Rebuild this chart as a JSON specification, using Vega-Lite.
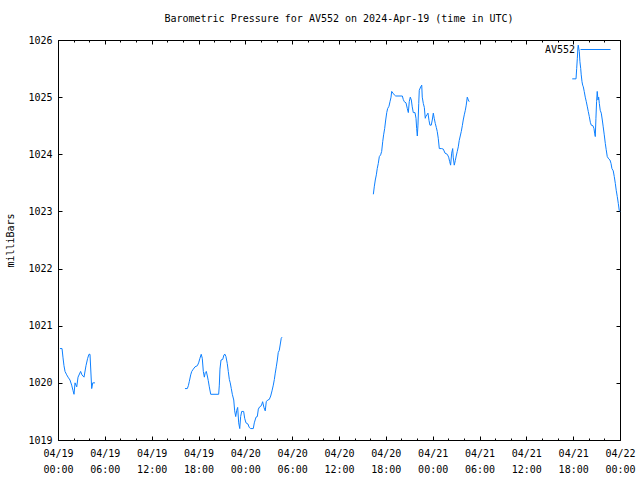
{
  "$schema": "https://vega.github.io/schema/vega-lite/v6.json",
  "width": 562,
  "height": 400,
  "autosize": {"type": "none"},
  "padding": {"left": 58, "top": 40, "right": 20, "bottom": 40},
  "background": "white",
  "title": {"text": "Barometric Pressure for AV552 on 2024-Apr-19 (time in UTC)", "font": "DejaVu Sans Mono", "fontSize": 10, "fontWeight": "normal", "color": "black", "anchor": "middle", "baseline": "bottom", "offset": 0},
  "config": {
    "view": {"stroke": "black", "strokeWidth": 1},
    "axis": {"domain": false, "grid": false, "tickColor": "black", "tickWidth": 1, "labelFont": "DejaVu Sans Mono", "labelFontSize": 10, "labelColor": "black", "titleFont": "DejaVu Sans Mono", "titleFontSize": 10, "titleFontWeight": "normal", "titleColor": "black"}
  },
  "data": {"values": [
    {"t": "2024-04-19T00:15:00Z", "p": 1020.6, "s": 1},
    {"t": "2024-04-19T00:31:00Z", "p": 1020.6, "s": 1},
    {"t": "2024-04-19T00:38:00Z", "p": 1020.45, "s": 1},
    {"t": "2024-04-19T00:46:00Z", "p": 1020.3, "s": 1},
    {"t": "2024-04-19T00:54:00Z", "p": 1020.2, "s": 1},
    {"t": "2024-04-19T01:07:00Z", "p": 1020.14, "s": 1},
    {"t": "2024-04-19T01:17:00Z", "p": 1020.1, "s": 1},
    {"t": "2024-04-19T01:32:00Z", "p": 1020.05, "s": 1},
    {"t": "2024-04-19T01:45:00Z", "p": 1019.96, "s": 1},
    {"t": "2024-04-19T01:55:00Z", "p": 1019.87, "s": 1},
    {"t": "2024-04-19T02:03:00Z", "p": 1019.8, "s": 1},
    {"t": "2024-04-19T02:11:00Z", "p": 1020.0, "s": 1},
    {"t": "2024-04-19T02:24:00Z", "p": 1019.93, "s": 1},
    {"t": "2024-04-19T02:34:00Z", "p": 1020.1, "s": 1},
    {"t": "2024-04-19T02:54:00Z", "p": 1020.2, "s": 1},
    {"t": "2024-04-19T03:04:00Z", "p": 1020.14, "s": 1},
    {"t": "2024-04-19T03:20:00Z", "p": 1020.1, "s": 1},
    {"t": "2024-04-19T03:35:00Z", "p": 1020.3, "s": 1},
    {"t": "2024-04-19T03:48:00Z", "p": 1020.43, "s": 1},
    {"t": "2024-04-19T03:58:00Z", "p": 1020.5, "s": 1},
    {"t": "2024-04-19T04:06:00Z", "p": 1020.5, "s": 1},
    {"t": "2024-04-19T04:19:00Z", "p": 1019.9, "s": 1},
    {"t": "2024-04-19T04:27:00Z", "p": 1020.0, "s": 1},
    {"t": "2024-04-19T04:44:00Z", "p": 1020.0, "s": 1},

    {"t": "2024-04-19T16:16:00Z", "p": 1019.9, "s": 2},
    {"t": "2024-04-19T16:34:00Z", "p": 1019.9, "s": 2},
    {"t": "2024-04-19T16:42:00Z", "p": 1019.95, "s": 2},
    {"t": "2024-04-19T16:49:00Z", "p": 1020.02, "s": 2},
    {"t": "2024-04-19T17:00:00Z", "p": 1020.14, "s": 2},
    {"t": "2024-04-19T17:08:00Z", "p": 1020.2, "s": 2},
    {"t": "2024-04-19T17:20:00Z", "p": 1020.24, "s": 2},
    {"t": "2024-04-19T17:33:00Z", "p": 1020.28, "s": 2},
    {"t": "2024-04-19T17:51:00Z", "p": 1020.3, "s": 2},
    {"t": "2024-04-19T18:01:00Z", "p": 1020.35, "s": 2},
    {"t": "2024-04-19T18:11:00Z", "p": 1020.43, "s": 2},
    {"t": "2024-04-19T18:21:00Z", "p": 1020.5, "s": 2},
    {"t": "2024-04-19T18:29:00Z", "p": 1020.43, "s": 2},
    {"t": "2024-04-19T18:37:00Z", "p": 1020.2, "s": 2},
    {"t": "2024-04-19T18:45:00Z", "p": 1020.1, "s": 2},
    {"t": "2024-04-19T18:52:00Z", "p": 1020.18, "s": 2},
    {"t": "2024-04-19T19:00:00Z", "p": 1020.2, "s": 2},
    {"t": "2024-04-19T19:08:00Z", "p": 1020.12, "s": 2},
    {"t": "2024-04-19T19:15:00Z", "p": 1020.04, "s": 2},
    {"t": "2024-04-19T19:23:00Z", "p": 1019.93, "s": 2},
    {"t": "2024-04-19T19:34:00Z", "p": 1019.8, "s": 2},
    {"t": "2024-04-19T20:35:00Z", "p": 1019.8, "s": 2},
    {"t": "2024-04-19T20:40:00Z", "p": 1019.96, "s": 2},
    {"t": "2024-04-19T20:45:00Z", "p": 1020.24, "s": 2},
    {"t": "2024-04-19T20:53:00Z", "p": 1020.4, "s": 2},
    {"t": "2024-04-19T21:06:00Z", "p": 1020.41, "s": 2},
    {"t": "2024-04-19T21:16:00Z", "p": 1020.49, "s": 2},
    {"t": "2024-04-19T21:24:00Z", "p": 1020.5, "s": 2},
    {"t": "2024-04-19T21:31:00Z", "p": 1020.46, "s": 2},
    {"t": "2024-04-19T21:41:00Z", "p": 1020.34, "s": 2},
    {"t": "2024-04-19T21:49:00Z", "p": 1020.2, "s": 2},
    {"t": "2024-04-19T21:57:00Z", "p": 1020.06, "s": 2},
    {"t": "2024-04-19T22:04:00Z", "p": 1020.0, "s": 2},
    {"t": "2024-04-19T22:12:00Z", "p": 1019.9, "s": 2},
    {"t": "2024-04-19T22:20:00Z", "p": 1019.8, "s": 2},
    {"t": "2024-04-19T22:31:00Z", "p": 1019.7, "s": 2},
    {"t": "2024-04-19T22:38:00Z", "p": 1019.51, "s": 2},
    {"t": "2024-04-19T22:46:00Z", "p": 1019.41, "s": 2},
    {"t": "2024-04-19T22:54:00Z", "p": 1019.52, "s": 2},
    {"t": "2024-04-19T23:01:00Z", "p": 1019.57, "s": 2},
    {"t": "2024-04-19T23:09:00Z", "p": 1019.3, "s": 2},
    {"t": "2024-04-19T23:17:00Z", "p": 1019.2, "s": 2},
    {"t": "2024-04-19T23:24:00Z", "p": 1019.41, "s": 2},
    {"t": "2024-04-19T23:32:00Z", "p": 1019.5, "s": 2},
    {"t": "2024-04-19T23:47:00Z", "p": 1019.5, "s": 2},
    {"t": "2024-04-19T23:55:00Z", "p": 1019.38, "s": 2},
    {"t": "2024-04-20T00:05:00Z", "p": 1019.3, "s": 2},
    {"t": "2024-04-20T00:20:00Z", "p": 1019.28, "s": 2},
    {"t": "2024-04-20T00:30:00Z", "p": 1019.22, "s": 2},
    {"t": "2024-04-20T00:41:00Z", "p": 1019.2, "s": 2},
    {"t": "2024-04-20T01:01:00Z", "p": 1019.2, "s": 2},
    {"t": "2024-04-20T01:09:00Z", "p": 1019.3, "s": 2},
    {"t": "2024-04-20T01:22:00Z", "p": 1019.4, "s": 2},
    {"t": "2024-04-20T01:32:00Z", "p": 1019.41, "s": 2},
    {"t": "2024-04-20T01:40:00Z", "p": 1019.54, "s": 2},
    {"t": "2024-04-20T01:50:00Z", "p": 1019.58, "s": 2},
    {"t": "2024-04-20T02:03:00Z", "p": 1019.6, "s": 2},
    {"t": "2024-04-20T02:13:00Z", "p": 1019.67, "s": 2},
    {"t": "2024-04-20T02:23:00Z", "p": 1019.57, "s": 2},
    {"t": "2024-04-20T02:33:00Z", "p": 1019.51, "s": 2},
    {"t": "2024-04-20T02:41:00Z", "p": 1019.67, "s": 2},
    {"t": "2024-04-20T02:52:00Z", "p": 1019.7, "s": 2},
    {"t": "2024-04-20T03:04:00Z", "p": 1019.71, "s": 2},
    {"t": "2024-04-20T03:15:00Z", "p": 1019.77, "s": 2},
    {"t": "2024-04-20T03:25:00Z", "p": 1019.86, "s": 2},
    {"t": "2024-04-20T03:35:00Z", "p": 1019.96, "s": 2},
    {"t": "2024-04-20T03:43:00Z", "p": 1020.06, "s": 2},
    {"t": "2024-04-20T03:50:00Z", "p": 1020.17, "s": 2},
    {"t": "2024-04-20T03:58:00Z", "p": 1020.28, "s": 2},
    {"t": "2024-04-20T04:06:00Z", "p": 1020.4, "s": 2},
    {"t": "2024-04-20T04:13:00Z", "p": 1020.53, "s": 2},
    {"t": "2024-04-20T04:21:00Z", "p": 1020.57, "s": 2},
    {"t": "2024-04-20T04:29:00Z", "p": 1020.68, "s": 2},
    {"t": "2024-04-20T04:36:00Z", "p": 1020.78, "s": 2},
    {"t": "2024-04-20T04:42:00Z", "p": 1020.8, "s": 2},

    {"t": "2024-04-20T16:24:00Z", "p": 1023.3, "s": 3},
    {"t": "2024-04-20T16:31:00Z", "p": 1023.43, "s": 3},
    {"t": "2024-04-20T16:39:00Z", "p": 1023.55, "s": 3},
    {"t": "2024-04-20T16:47:00Z", "p": 1023.64, "s": 3},
    {"t": "2024-04-20T16:54:00Z", "p": 1023.75, "s": 3},
    {"t": "2024-04-20T17:02:00Z", "p": 1023.84, "s": 3},
    {"t": "2024-04-20T17:10:00Z", "p": 1023.96, "s": 3},
    {"t": "2024-04-20T17:20:00Z", "p": 1023.99, "s": 3},
    {"t": "2024-04-20T17:28:00Z", "p": 1024.05, "s": 3},
    {"t": "2024-04-20T17:36:00Z", "p": 1024.22, "s": 3},
    {"t": "2024-04-20T17:43:00Z", "p": 1024.34, "s": 3},
    {"t": "2024-04-20T17:51:00Z", "p": 1024.45, "s": 3},
    {"t": "2024-04-20T17:59:00Z", "p": 1024.6, "s": 3},
    {"t": "2024-04-20T18:07:00Z", "p": 1024.73, "s": 3},
    {"t": "2024-04-20T18:14:00Z", "p": 1024.8, "s": 3},
    {"t": "2024-04-20T18:24:00Z", "p": 1024.84, "s": 3},
    {"t": "2024-04-20T18:32:00Z", "p": 1024.92, "s": 3},
    {"t": "2024-04-20T18:40:00Z", "p": 1025.0, "s": 3},
    {"t": "2024-04-20T18:45:00Z", "p": 1025.1, "s": 3},
    {"t": "2024-04-20T18:55:00Z", "p": 1025.07, "s": 3},
    {"t": "2024-04-20T19:05:00Z", "p": 1025.04, "s": 3},
    {"t": "2024-04-20T19:16:00Z", "p": 1025.02, "s": 3},
    {"t": "2024-04-20T20:07:00Z", "p": 1025.02, "s": 3},
    {"t": "2024-04-20T20:14:00Z", "p": 1024.96, "s": 3},
    {"t": "2024-04-20T20:22:00Z", "p": 1024.92, "s": 3},
    {"t": "2024-04-20T20:35:00Z", "p": 1024.9, "s": 3},
    {"t": "2024-04-20T20:45:00Z", "p": 1024.8, "s": 3},
    {"t": "2024-04-20T20:53:00Z", "p": 1024.73, "s": 3},
    {"t": "2024-04-20T21:00:00Z", "p": 1024.92, "s": 3},
    {"t": "2024-04-20T21:08:00Z", "p": 1025.0, "s": 3},
    {"t": "2024-04-20T21:16:00Z", "p": 1024.95, "s": 3},
    {"t": "2024-04-20T21:23:00Z", "p": 1024.83, "s": 3},
    {"t": "2024-04-20T21:31:00Z", "p": 1024.73, "s": 3},
    {"t": "2024-04-20T21:44:00Z", "p": 1024.73, "s": 3},
    {"t": "2024-04-20T21:52:00Z", "p": 1024.63, "s": 3},
    {"t": "2024-04-20T21:57:00Z", "p": 1024.45, "s": 3},
    {"t": "2024-04-20T22:02:00Z", "p": 1024.32, "s": 3},
    {"t": "2024-04-20T22:07:00Z", "p": 1024.51, "s": 3},
    {"t": "2024-04-20T22:13:00Z", "p": 1024.89, "s": 3},
    {"t": "2024-04-20T22:17:00Z", "p": 1025.12, "s": 3},
    {"t": "2024-04-20T22:28:00Z", "p": 1025.18, "s": 3},
    {"t": "2024-04-20T22:36:00Z", "p": 1025.21, "s": 3},
    {"t": "2024-04-20T22:40:00Z", "p": 1025.0, "s": 3},
    {"t": "2024-04-20T22:48:00Z", "p": 1024.89, "s": 3},
    {"t": "2024-04-20T22:56:00Z", "p": 1024.82, "s": 3},
    {"t": "2024-04-20T23:03:00Z", "p": 1024.63, "s": 3},
    {"t": "2024-04-20T23:09:00Z", "p": 1024.67, "s": 3},
    {"t": "2024-04-20T23:16:00Z", "p": 1024.69, "s": 3},
    {"t": "2024-04-20T23:24:00Z", "p": 1024.72, "s": 3},
    {"t": "2024-04-20T23:32:00Z", "p": 1024.59, "s": 3},
    {"t": "2024-04-20T23:39:00Z", "p": 1024.51, "s": 3},
    {"t": "2024-04-20T23:49:00Z", "p": 1024.51, "s": 3},
    {"t": "2024-04-20T23:57:00Z", "p": 1024.6, "s": 3},
    {"t": "2024-04-21T00:05:00Z", "p": 1024.72, "s": 3},
    {"t": "2024-04-21T00:12:00Z", "p": 1024.63, "s": 3},
    {"t": "2024-04-21T00:20:00Z", "p": 1024.54, "s": 3},
    {"t": "2024-04-21T00:28:00Z", "p": 1024.47, "s": 3},
    {"t": "2024-04-21T00:35:00Z", "p": 1024.4, "s": 3},
    {"t": "2024-04-21T00:43:00Z", "p": 1024.28, "s": 3},
    {"t": "2024-04-21T00:51:00Z", "p": 1024.1, "s": 3},
    {"t": "2024-04-21T01:09:00Z", "p": 1024.1, "s": 3},
    {"t": "2024-04-21T01:22:00Z", "p": 1024.09, "s": 3},
    {"t": "2024-04-21T01:35:00Z", "p": 1024.02, "s": 3},
    {"t": "2024-04-21T01:52:00Z", "p": 1024.0, "s": 3},
    {"t": "2024-04-21T02:03:00Z", "p": 1023.95, "s": 3},
    {"t": "2024-04-21T02:11:00Z", "p": 1023.87, "s": 3},
    {"t": "2024-04-21T02:18:00Z", "p": 1023.81, "s": 3},
    {"t": "2024-04-21T02:26:00Z", "p": 1024.02, "s": 3},
    {"t": "2024-04-21T02:34:00Z", "p": 1024.1, "s": 3},
    {"t": "2024-04-21T02:38:00Z", "p": 1023.95, "s": 3},
    {"t": "2024-04-21T02:46:00Z", "p": 1023.81, "s": 3},
    {"t": "2024-04-21T02:54:00Z", "p": 1023.89, "s": 3},
    {"t": "2024-04-21T03:01:00Z", "p": 1023.97, "s": 3},
    {"t": "2024-04-21T03:09:00Z", "p": 1024.05, "s": 3},
    {"t": "2024-04-21T03:17:00Z", "p": 1024.13, "s": 3},
    {"t": "2024-04-21T03:24:00Z", "p": 1024.24, "s": 3},
    {"t": "2024-04-21T03:32:00Z", "p": 1024.32, "s": 3},
    {"t": "2024-04-21T03:40:00Z", "p": 1024.4, "s": 3},
    {"t": "2024-04-21T03:48:00Z", "p": 1024.5, "s": 3},
    {"t": "2024-04-21T03:55:00Z", "p": 1024.6, "s": 3},
    {"t": "2024-04-21T04:03:00Z", "p": 1024.69, "s": 3},
    {"t": "2024-04-21T04:11:00Z", "p": 1024.77, "s": 3},
    {"t": "2024-04-21T04:18:00Z", "p": 1024.86, "s": 3},
    {"t": "2024-04-21T04:26:00Z", "p": 1025.0, "s": 3},
    {"t": "2024-04-21T04:34:00Z", "p": 1024.95, "s": 3},
    {"t": "2024-04-21T04:41:00Z", "p": 1024.92, "s": 3},

    {"t": "2024-04-21T17:53:00Z", "p": 1025.32, "s": 4},
    {"t": "2024-04-21T18:22:00Z", "p": 1025.32, "s": 4},
    {"t": "2024-04-21T18:27:00Z", "p": 1025.5, "s": 4},
    {"t": "2024-04-21T18:32:00Z", "p": 1025.68, "s": 4},
    {"t": "2024-04-21T18:37:00Z", "p": 1025.88, "s": 4},
    {"t": "2024-04-21T18:39:00Z", "p": 1025.91, "s": 4},
    {"t": "2024-04-21T18:47:00Z", "p": 1025.8, "s": 4},
    {"t": "2024-04-21T18:52:00Z", "p": 1025.62, "s": 4},
    {"t": "2024-04-21T18:58:00Z", "p": 1025.5, "s": 4},
    {"t": "2024-04-21T19:02:00Z", "p": 1025.39, "s": 4},
    {"t": "2024-04-21T19:08:00Z", "p": 1025.27, "s": 4},
    {"t": "2024-04-21T19:13:00Z", "p": 1025.21, "s": 4},
    {"t": "2024-04-21T19:18:00Z", "p": 1025.18, "s": 4},
    {"t": "2024-04-21T19:25:00Z", "p": 1025.1, "s": 4},
    {"t": "2024-04-21T19:33:00Z", "p": 1025.0, "s": 4},
    {"t": "2024-04-21T19:41:00Z", "p": 1024.92, "s": 4},
    {"t": "2024-04-21T19:49:00Z", "p": 1024.83, "s": 4},
    {"t": "2024-04-21T19:56:00Z", "p": 1024.75, "s": 4},
    {"t": "2024-04-21T20:04:00Z", "p": 1024.66, "s": 4},
    {"t": "2024-04-21T20:12:00Z", "p": 1024.56, "s": 4},
    {"t": "2024-04-21T20:19:00Z", "p": 1024.51, "s": 4},
    {"t": "2024-04-21T20:32:00Z", "p": 1024.5, "s": 4},
    {"t": "2024-04-21T20:40:00Z", "p": 1024.45, "s": 4},
    {"t": "2024-04-21T20:45:00Z", "p": 1024.37, "s": 4},
    {"t": "2024-04-21T20:50:00Z", "p": 1024.31, "s": 4},
    {"t": "2024-04-21T20:55:00Z", "p": 1024.63, "s": 4},
    {"t": "2024-04-21T21:00:00Z", "p": 1024.92, "s": 4},
    {"t": "2024-04-21T21:05:00Z", "p": 1025.1, "s": 4},
    {"t": "2024-04-21T21:11:00Z", "p": 1024.95, "s": 4},
    {"t": "2024-04-21T21:16:00Z", "p": 1025.0, "s": 4},
    {"t": "2024-04-21T21:21:00Z", "p": 1024.89, "s": 4},
    {"t": "2024-04-21T21:28:00Z", "p": 1024.77, "s": 4},
    {"t": "2024-04-21T21:36:00Z", "p": 1024.72, "s": 4},
    {"t": "2024-04-21T21:44:00Z", "p": 1024.6, "s": 4},
    {"t": "2024-04-21T21:51:00Z", "p": 1024.48, "s": 4},
    {"t": "2024-04-21T21:59:00Z", "p": 1024.34, "s": 4},
    {"t": "2024-04-21T22:07:00Z", "p": 1024.19, "s": 4},
    {"t": "2024-04-21T22:14:00Z", "p": 1024.08, "s": 4},
    {"t": "2024-04-21T22:22:00Z", "p": 1023.96, "s": 4},
    {"t": "2024-04-21T22:33:00Z", "p": 1023.92, "s": 4},
    {"t": "2024-04-21T22:43:00Z", "p": 1023.9, "s": 4},
    {"t": "2024-04-21T22:51:00Z", "p": 1023.84, "s": 4},
    {"t": "2024-04-21T22:58:00Z", "p": 1023.75, "s": 4},
    {"t": "2024-04-21T23:08:00Z", "p": 1023.71, "s": 4},
    {"t": "2024-04-21T23:16:00Z", "p": 1023.61, "s": 4},
    {"t": "2024-04-21T23:24:00Z", "p": 1023.49, "s": 4},
    {"t": "2024-04-21T23:31:00Z", "p": 1023.37, "s": 4},
    {"t": "2024-04-21T23:39:00Z", "p": 1023.26, "s": 4},
    {"t": "2024-04-21T23:47:00Z", "p": 1023.14, "s": 4},
    {"t": "2024-04-21T23:54:00Z", "p": 1023.02, "s": 4},
    {"t": "2024-04-22T00:00:00Z", "p": 1023.0, "s": 4}
  ]},
  "layer": [
    {
      "mark": {"type": "line", "strokeWidth": 1},
      "encoding": {
        "x": {"field": "t", "type": "temporal",
              "scale": {"domain": [1713484800000, 1713744000000], "nice": false},
              "axis": {"orient": "bottom", "title": null, "values": [1713484800000, 1713506400000, 1713528000000, 1713549600000, 1713571200000, 1713592800000, 1713614400000, 1713636000000, 1713657600000, 1713679200000, 1713700800000, 1713722400000, 1713744000000], "tickSize": -4, "labelPadding": 12, "labelExpr": "[utcFormat(datum.value, '%m/%d'), utcFormat(datum.value, '%H:%M')]", "labelLineHeight": 16, "labelFlush": false, "labelOverlap": false}},
        "y": {"field": "p", "type": "quantitative",
              "scale": {"domain": [1019, 1026], "nice": false, "zero": false},
              "axis": {"orient": "left", "title": "milliBars", "values": [1019, 1020, 1021, 1022, 1023, 1024, 1025, 1026], "format": "d", "tickSize": -4, "labelPadding": 10, "titleX": -48, "titleY": 200, "titleAngle": -90, "titleAlign": "center", "titleBaseline": "middle"}},
        "color": {"datum": "AV552", "type": "nominal", "scale": {"range": ["#0d80ff"]},
                  "legend": {"title": null, "orient": "none", "legendX": 522, "legendY": -6, "padding": 0, "symbolType": "stroke", "symbolSize": 900, "symbolStrokeWidth": 1, "labelAlign": "right", "labelOffset": -36, "labelFont": "DejaVu Sans Mono", "labelFontSize": 10, "labelColor": "black"}},
        "detail": {"field": "s", "type": "nominal"}
      }
    },
    {
      "mark": {"type": "line", "opacity": 0},
      "encoding": {
        "x": {"field": "t", "type": "temporal", "axis": {"orient": "bottom", "title": null, "values": [1713484800000, 1713492000000, 1713499200000, 1713506400000, 1713513600000, 1713520800000, 1713528000000, 1713535200000, 1713542400000, 1713549600000, 1713556800000, 1713564000000, 1713571200000, 1713578400000, 1713585600000, 1713592800000, 1713600000000, 1713607200000, 1713614400000, 1713621600000, 1713628800000, 1713636000000, 1713643200000, 1713650400000, 1713657600000, 1713664800000, 1713672000000, 1713679200000, 1713686400000, 1713693600000, 1713700800000, 1713708000000, 1713715200000, 1713722400000, 1713729600000, 1713736800000, 1713744000000], "tickSize": -2, "labels": false}},
        "y": {"field": "p", "type": "quantitative", "axis": {"orient": "right", "title": null, "values": [1019, 1020, 1021, 1022, 1023, 1024, 1025, 1026], "tickSize": -4, "labels": false}},
        "detail": {"field": "s", "type": "nominal"}
      }
    },
    {
      "mark": {"type": "line", "opacity": 0},
      "encoding": {
        "x": {"field": "t", "type": "temporal", "axis": {"orient": "top", "title": null, "values": [1713484800000, 1713506400000, 1713528000000, 1713549600000, 1713571200000, 1713592800000, 1713614400000, 1713636000000, 1713657600000, 1713679200000, 1713700800000, 1713722400000, 1713744000000], "tickSize": -4, "labels": false}},
        "y": {"field": "p", "type": "quantitative", "axis": null},
        "detail": {"field": "s", "type": "nominal"}
      }
    },
    {
      "mark": {"type": "line", "opacity": 0},
      "encoding": {
        "x": {"field": "t", "type": "temporal", "axis": {"orient": "top", "title": null, "values": [1713484800000, 1713492000000, 1713499200000, 1713506400000, 1713513600000, 1713520800000, 1713528000000, 1713535200000, 1713542400000, 1713549600000, 1713556800000, 1713564000000, 1713571200000, 1713578400000, 1713585600000, 1713592800000, 1713600000000, 1713607200000, 1713614400000, 1713621600000, 1713628800000, 1713636000000, 1713643200000, 1713650400000, 1713657600000, 1713664800000, 1713672000000, 1713679200000, 1713686400000, 1713693600000, 1713700800000, 1713708000000, 1713715200000, 1713722400000, 1713729600000, 1713736800000, 1713744000000], "tickSize": -2, "labels": false}},
        "y": {"field": "p", "type": "quantitative", "axis": null},
        "detail": {"field": "s", "type": "nominal"}
      }
    }
  ],
  "resolve": {"axis": {"x": "independent", "y": "independent"}}
}
